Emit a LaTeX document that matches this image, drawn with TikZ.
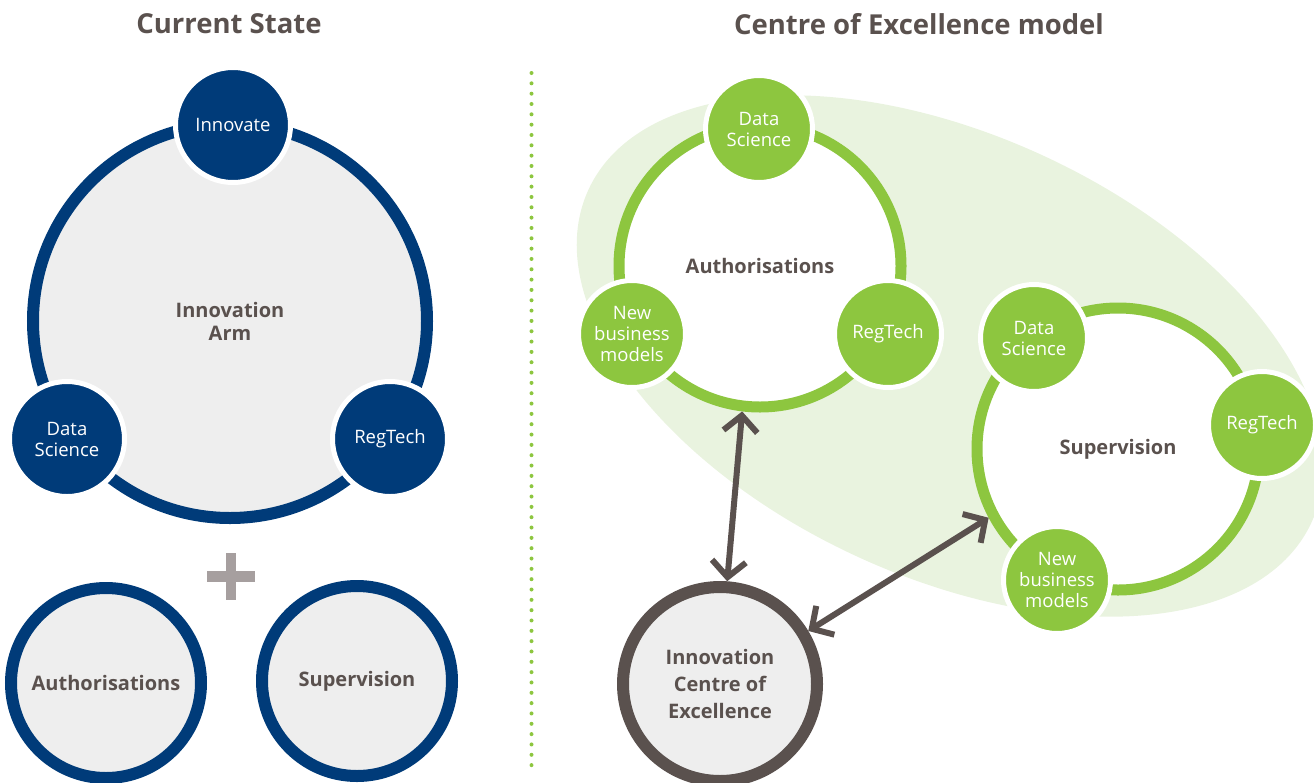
\documentclass[tikz,border=0pt]{standalone}
\usepackage{fontspec}
\setmainfont{Open Sans}
\usetikzlibrary{arrows.meta}

\definecolor{navy}{HTML}{003B79}
\definecolor{leaf}{HTML}{8DC63F}
\definecolor{paleleaf}{HTML}{E9F3DF}
\definecolor{greyfill}{HTML}{EEEEEE}
\definecolor{ink}{HTML}{5A514E}
\definecolor{plusgrey}{HTML}{A69F9F}

\begin{document}
\begin{tikzpicture}[x=1pt, y=-1pt,
  title/.style={font=\fontsize{27.5}{32}\selectfont\bfseries, text=ink},
  label/.style={font=\fontsize{20}{23}\selectfont\bfseries, text=ink, align=center},
  ringnode/.style={circle, inner sep=0pt, minimum size=#1},
  navyring/.style={ringnode=#1, draw=navy, line width=12pt, fill=greyfill},
  leafring/.style={ringnode=#1, draw=leaf, line width=11pt, fill=white},
  sat/.style={circle, inner sep=0pt, draw=white, line width=5pt, text=white,
              align=center, font=\fontsize{18.5}{21}\selectfont},
  navysat/.style={sat, fill=navy, minimum size=115pt},
  leafsat/.style={sat, fill=leaf, minimum size=107pt},
  link/.style={draw=ink, line width=6pt,
    {Straight Barb[length=16pt, width=34pt]}-{Straight Barb[length=16pt, width=34pt]}}
]
\useasboundingbox (0,0) rectangle (1314,782);

% headings
\node[title] (curtitle) at (229,24) {Current State};
\node[title] (coetitle) at (919,24) {Centre of Excellence model};

% dotted divider
\draw[leaf, line width=4pt, line cap=round, dash pattern=on 0pt off 10.33pt]
  (531.5,73) -- (531.5,775);

% ---- current state ----
\node[navyring=394pt, label] (arm) at (230,321) {Innovation\\Arm};
\node[navysat] (innovate) at (233,125) {Innovate};
\node[navysat] (dsleft) at (67,439) {Data\\Science};
\node[navysat] (rtleft) at (390,439) {RegTech};

% plus sign
\fill[plusgrey] (226,553) rectangle (236,600);
\fill[plusgrey] (207,571) rectangle (255,582);

\node[navyring=190pt, label] (authleft) at (106,683) {Authorisations};
\node[navyring=190pt, label] (supleft) at (357,681) {Supervision};

% ---- centre of excellence model ----
\fill[paleleaf, rotate around={-24.7:(950,356)}]
  (950,356) ellipse [x radius=398pt, y radius=221pt];

\node[leafring=282pt, label] (authring) at (760,266) {Authorisations};
\node[leafsat] (dsauth) at (759,129) {Data\\Science};
\node[leafsat] (nbmauth) at (632,334) {New\\business\\models};
\node[leafsat] (rtauth) at (888,334) {RegTech};

\node[leafring=282pt, label] (supring) at (1118,449) {Supervision};
\node[leafsat] (dssup) at (1034,338) {Data\\Science};
\node[leafsat] (rtsup) at (1262,425) {RegTech};
\node[leafsat] (nbmsup) at (1057,580) {New\\business\\models};

\node[ringnode=194pt, draw=ink, line width=12pt, fill=greyfill,
      font=\fontsize{20}{27}\selectfont\bfseries, text=ink, align=center]
  (ice) at (720,684) {Innovation\\Centre of\\Excellence};

% links
\draw[link] (ice.86) -- (authring.263);
\draw[link] (ice.31) -- (supring.208);
\end{tikzpicture}
\end{document}
